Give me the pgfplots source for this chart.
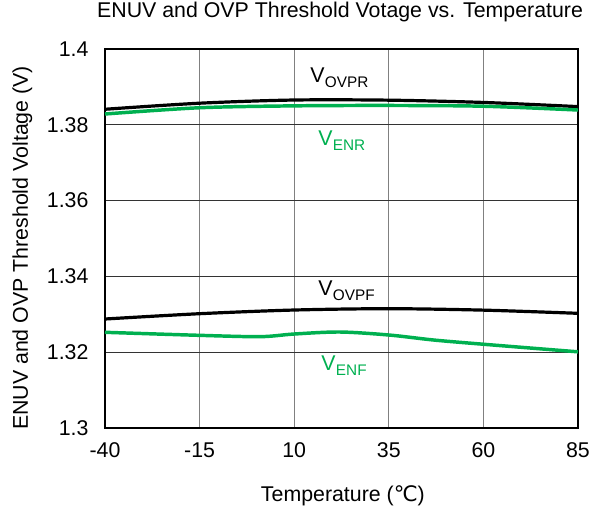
\documentclass[border=0pt]{standalone}
\usepackage{pgfplots}
\pgfplotsset{compat=1.18}
\usepackage{fontspec}
\setmainfont{Liberation Sans}
\newfontfamily\dejavu{DejaVu Sans}
\definecolor{tigreen}{RGB}{0,176,80}
\newcommand{\sixteen}{\fontsize{16}{19}\selectfont}
\newcommand{\lbl}[2]{V\kern0.3pt{\fontsize{11.5}{13}\selectfont\raisebox{-4pt}{#2}}}
\begin{document}
\begin{tikzpicture}[x=0.75pt,y=0.75pt]
\useasboundingbox (-105,-80) rectangle (495,428);
\begin{axis}[
  at={(0,0)}, anchor=south west,
  scale only axis, width=354.75pt, height=284.25pt,
  xmin=-40, xmax=85, ymin=1.3, ymax=1.4,
  xtick={-40,-15,10,35,60,85},
  ytick={1.3,1.32,1.34,1.36,1.38,1.4},
  yticklabels={1.3,1.32,1.34,1.36,1.38,1.4},
  major tick length=0pt,
  xmajorgrids, ymajorgrids,
  x grid style={draw=black!50, line width=0.9pt},
  y grid style={draw=black!80, line width=0.7pt},
  axis line style={line width=1.6pt},
  tick label style={font=\sixteen},
  /pgf/number format/assume math mode=true,
  xticklabel style={yshift=-7.4pt},
  yticklabel style={xshift=-8.9pt},
  title={ENUV and OVP Threshold Votage vs. Temperature},
  title style={font=\sixteen, at={(axis description cs:0.497,1.0607)}, anchor=base},
  xlabel={Temperature ({\dejavu ℃})},
  ylabel={ENUV and OVP Threshold Voltage (V)},
  label style={font=\sixteen},
  xlabel style={at={(axis description cs:0.503,-0.195)}, anchor=base},
  ylabel style={at={(axis description cs:-0.1628,0.475)}, anchor=base},
  clip=false,
]
\addplot[black, line width=2.4pt, smooth] coordinates {
(-40,1.3841) (-15,1.3857) (10,1.38654) (35,1.3865) (60,1.3859) (85,1.3848)};
\addplot[tigreen, line width=2.6pt, smooth] coordinates {
(-40,1.38285) (-15,1.3845) (10,1.3850) (35,1.3851) (60,1.3849) (85,1.3839)};
\addplot[black, line width=2.4pt, smooth] coordinates {
(-40,1.32876) (-15,1.33016) (10,1.33113) (35,1.33148) (60,1.3311) (85,1.33026)};
\addplot[tigreen, line width=2.6pt, smooth] coordinates {
(-40,1.32525) (-15,1.32445) (1,1.3241) (10,1.3248) (22,1.32533) (35,1.32454) (47,1.3232) (60,1.3221) (85,1.3201)};
\node[font=\sixteen, anchor=base west, inner sep=0pt] at (axis cs:14.2,1.39129) {\lbl{V}{OVPR}};
\node[font=\sixteen, anchor=base west, inner sep=0pt, text=tigreen] at (axis cs:16.3,1.37467) {\lbl{V}{ENR}};
\node[font=\sixteen, anchor=base west, inner sep=0pt] at (axis cs:16.3,1.33509) {\lbl{V}{OVPF}};
\node[font=\sixteen, anchor=base west, inner sep=0pt, text=tigreen] at (axis cs:17.1,1.3153) {\lbl{V}{ENF}};
\end{axis}
\end{tikzpicture}
\end{document}
